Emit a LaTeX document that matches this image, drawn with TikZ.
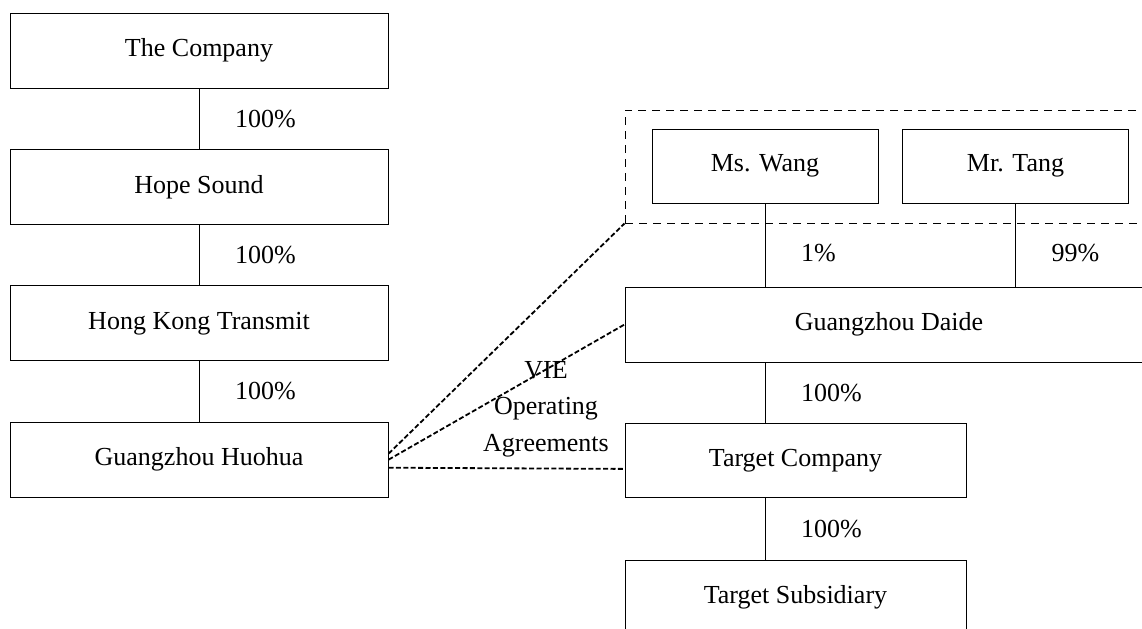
\documentclass[tikz,border=0pt]{standalone}
\usepackage{fontspec}
\setmainfont{Liberation Serif}
\usepackage{tikz}
\usetikzlibrary{positioning}

\begin{document}
\begin{tikzpicture}[node distance=68.2pt, font=\fontsize{13}{18.25}\selectfont]
    % Define styles
    \tikzstyle{holding} = [rectangle, draw, line width=0.5pt, text centered, minimum width=189pt, minimum height=37.5pt]
    \tikzstyle{opco} = [rectangle, draw, line width=0.5pt, text centered, minimum width=170.5pt, minimum height=37pt]
    \tikzstyle{person} = [rectangle, draw, line width=0.5pt, text centered, minimum width=113pt, minimum height=37pt]
    \tikzstyle{group} = [rectangle, draw, line width=0.5pt, dash pattern=on 4pt off 3pt, minimum width=264pt, minimum height=56.5pt]
    \tikzstyle{owns} = [draw, line width=0.5pt]
    \tikzstyle{pct} = [right, xshift=14.5pt]
    \tikzstyle{vieline} = [draw, line width=0.9pt, dash pattern=on 2.5pt off 1.2pt]

    % Page
    \useasboundingbox (0,0) rectangle (571pt,-314pt);
    \clip (0,0) rectangle (571pt,-314pt);

    % Offshore entities
    \node [holding] at (99.5pt,-25.25pt) (company) {The Company};
    \node [holding, below of=company] (hope) {Hope Sound};
    \node [holding, below of=hope] (transmit) {Hong Kong Transmit};
    \node [holding, below of=transmit] (huohua) {Guangzhou Huohua};

    % Shareholders
    \node [group] at (444.5pt,-83.25pt) (owners) {};
    \node [person] at (382.5pt,-83pt) (wang) {Ms. Wang};
    \node [person] at (507.75pt,-83pt) (tang) {Mr. Tang};

    % Domestic entities
    \node [opco, minimum width=264pt, minimum height=37.5pt] at (444.5pt,-162.25pt) (daide) {Guangzhou Daide};
    \node [opco, below of=daide, xshift=-46.75pt] (target) {Target Company};
    \node [opco, below of=target] (subsidiary) {Target Subsidiary};

    % Ownership lines
    \draw [owns] (company) -- (hope) node [pct, midway] (p1) {100\%};
    \draw [owns] (hope) -- (transmit) node [pct, midway] (p2) {100\%};
    \draw [owns] (transmit) -- (huohua) node [pct, midway] (p3) {100\%};
    \draw [owns] (wang) -- (wang |- daide.north) node [pct, pos=0.6] (p4) {1\%};
    \draw [owns] (tang) -- (tang |- daide.north) node [pct, pos=0.6] (p5) {99\%};
    \draw [owns] (wang |- daide.south) -- (wang |- target.north) node [pct, midway] (p6) {100\%};
    \draw [owns] (wang |- target.south) -- (wang |- subsidiary.north) node [pct, midway] (p7) {100\%};

    % VIE agreements
    \draw [vieline] ([yshift=3pt]huohua.east) -- (owners.south west);
    \draw [vieline] (huohua.east) -- (daide.west);
    \draw [vieline] ([yshift=-4pt]huohua.east) -- ([yshift=-4pt]target.west);
    \node [align=center] at (273pt,-204.5pt) (agreements) {VIE\\Operating\\Agreements};
\end{tikzpicture}
\end{document}
